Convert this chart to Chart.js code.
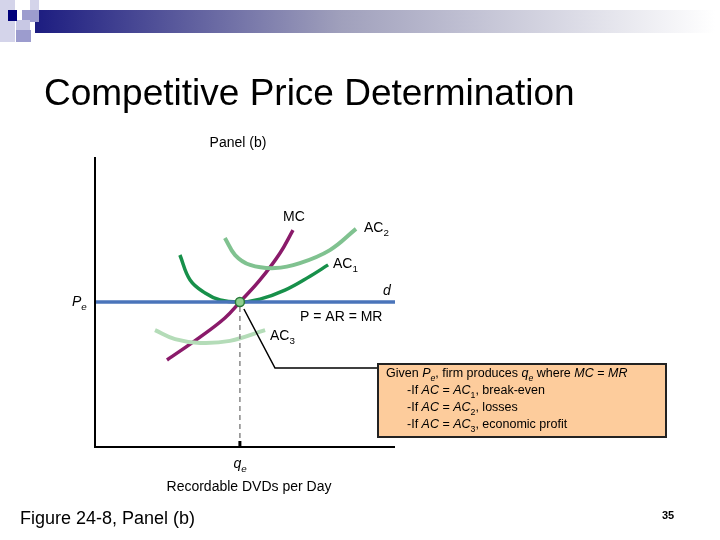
<!DOCTYPE html>
<html><head><meta charset="utf-8">
<script src="https://cdn.jsdelivr.net/npm/chart.js@4.4.1/dist/chart.umd.min.js"></script>
<style>html,body{margin:0;padding:0;background:#fff}#wrap{width:720px;height:540px;position:relative}</style>
</head><body><div id="wrap"><canvas id="c" width="720" height="540"></canvas></div>
<script>
// curve data (x: quantity 0-100, y: price 0-100)
const priceLevel = 50;
const qe = 48.3;
const mcCurve = [[24,30],[35,37.9],[43.3,44.5],[48.3,50],[55,57.6],[61.7,66.9],[66,74.8]];
const ac1Curve = [[28.3,66.2],[31.7,57.6],[36.7,53.1],[41.7,50.7],[48.3,50],[55,51],[63.3,54.1],[71.7,58.9],[77.7,62.8]];
const ac2Curve = [[43.3,72.1],[46.7,66.2],[51.7,62.8],[60,61.7],[68.3,63.4],[78.3,67.9],[87,75.2]];
const ac3Curve = [[20,40.3],[26.7,37.2],[35,35.9],[45,36.6],[56.7,40.3]];
const demandLine = [[0,priceLevel],[100,priceLevel]];
const qeLine = [[qe,0],[qe,priceLevel]];

const pts = a => a.map(([x, y]) => ({x, y}));
const curve = (data, color, w) => ({data: pts(data), borderColor: color, borderWidth: w, showLine: true, pointRadius: 0, tension: 0.4, borderCapStyle: 'butt'});

function sub(ctx, x, y, parts, size, align) {
  // parts: [text, isSub, italic]
  let total = 0;
  parts.forEach(p => { ctx.font = (p[2] ? 'italic ' : '') + (p[1] ? size * 0.7 : size) + 'px "Liberation Sans", Arial'; total += ctx.measureText(p[0]).width; });
  let cx = align === 'center' ? x - total / 2 : x;
  ctx.textAlign = 'left';
  parts.forEach(p => {
    ctx.font = (p[2] ? 'italic ' : '') + (p[1] ? size * 0.7 : size) + 'px "Liberation Sans", Arial';
    ctx.fillText(p[0], cx, p[1] ? y + size * 0.3 : y);
    cx += ctx.measureText(p[0]).width;
  });
}

const slide = {
  id: 'slide',
  beforeDraw(chart) {
    const ctx = chart.ctx;
    ctx.save();
    const g = ctx.createLinearGradient(35, 0, 715, 0);
    g.addColorStop(0, '#1c1c80'); g.addColorStop(0.45, '#a0a0bc'); g.addColorStop(1, '#ffffff');
    ctx.fillStyle = g; ctx.fillRect(35, 10, 685, 23);
    ctx.fillStyle = '#d4d4ea'; ctx.fillRect(0, 0, 15, 42); ctx.fillRect(30, 0, 9, 20);
    ctx.fillStyle = '#9c9cce'; ctx.fillRect(22, 10, 17, 12); ctx.fillRect(16, 30, 15, 12);
    ctx.fillStyle = '#c8c8e4'; ctx.fillRect(16, 20, 14, 10);
    ctx.fillStyle = '#00007a'; ctx.fillRect(8, 10, 9, 11);
    ctx.restore();
  },
  afterDraw(chart) {
    const ctx = chart.ctx, a = chart.chartArea, xs = chart.scales.x, ys = chart.scales.y;
    ctx.save();
    // axes
    ctx.strokeStyle = '#000'; ctx.lineWidth = 2;
    ctx.beginPath(); ctx.moveTo(a.left, a.top); ctx.lineTo(a.left, a.bottom); ctx.lineTo(a.right, a.bottom); ctx.stroke();
    const qx = xs.getPixelForValue(qe), py = ys.getPixelForValue(priceLevel);
    ctx.lineWidth = 3; ctx.beginPath(); ctx.moveTo(qx, a.bottom); ctx.lineTo(qx, a.bottom - 6); ctx.stroke();
    // leader line and box
    ctx.lineWidth = 1.5;
    ctx.beginPath(); ctx.moveTo(qx + 4, py + 7); ctx.lineTo(275, 368); ctx.lineTo(378, 368); ctx.stroke();
    ctx.fillStyle = '#fdcc9c'; ctx.fillRect(378, 364, 288, 73);
    ctx.strokeStyle = '#222'; ctx.lineWidth = 2; ctx.strokeRect(378, 364, 288, 73);
    // equilibrium point
    ctx.fillStyle = '#8fd08f'; ctx.strokeStyle = '#2a7a3a'; ctx.lineWidth = 1.5;
    ctx.beginPath(); ctx.arc(qx, py, 4.5, 0, Math.PI * 2); ctx.fill(); ctx.stroke();
    // texts
    ctx.fillStyle = '#000'; ctx.textBaseline = 'alphabetic';
    ctx.font = '37px "Liberation Sans", Arial'; ctx.textAlign = 'left';
    ctx.fillText('Competitive Price Determination', 44, 105);
    ctx.font = '14px "Liberation Sans", Arial'; ctx.textAlign = 'center';
    ctx.fillText('Panel (b)', 238, 147);
    ctx.fillText('Recordable DVDs per Day', 249, 491);
    ctx.textAlign = 'left';
    ctx.fillText('MC', 283, 221);
    ctx.fillText('P = AR = MR', 300, 321);
    ctx.font = 'italic 14px "Liberation Sans", Arial'; ctx.fillText('d', 383, 295);
    sub(ctx, 364, 232, [['AC'], ['2', true]], 14);
    sub(ctx, 333, 268, [['AC'], ['1', true]], 14);
    sub(ctx, 270, 340, [['AC'], ['3', true]], 14);
    sub(ctx, 72, 306, [['P', false, true], ['e', true, true]], 14);
    sub(ctx, 240, 468, [['q', false, true], ['e', true, true]], 14, 'center');
    const f = 12.5;
    sub(ctx, 386, 377, [['Given '], ['P', false, true], ['e', true, true], [', firm produces '], ['q', false, true], ['e', true, true], [' where '], ['MC', false, true], [' = '], ['MR', false, true]], f);
    sub(ctx, 407, 394, [['-If '], ['AC', false, true], [' = '], ['AC', false, true], ['1', true], [', break-even']], f);
    sub(ctx, 407, 411, [['-If '], ['AC', false, true], [' = '], ['AC', false, true], ['2', true], [', losses']], f);
    sub(ctx, 407, 428, [['-If '], ['AC', false, true], [' = '], ['AC', false, true], ['3', true], [', economic profit']], f);
    ctx.font = '18px "Liberation Sans", Arial';
    ctx.fillText('Figure 24-8, Panel (b)', 20, 524);
    ctx.font = 'bold 11px "Liberation Sans", Arial';
    ctx.fillText('35', 662, 519);
    ctx.restore();
  }
};

new Chart(document.getElementById('c'), {
  type: 'scatter',
  data: {
    datasets: [
      Object.assign(curve(qeLine, '#888', 1.5), {borderDash: [5, 4], tension: 0}),
      Object.assign(curve(demandLine, '#4a74ba', 3.5), {tension: 0}),
      curve(ac3Curve, '#b4dcb8', 4),
      curve(ac2Curve, '#80c290', 4),
      curve(ac1Curve, '#17904a', 3.5),
      curve(mcCurve, '#8a1a6a', 3.5)
    ]
  },
  options: {
    responsive: false, animation: false,
    layout: {padding: {left: 95, right: 325, top: 157, bottom: 93}},
    plugins: {legend: {display: false}, tooltip: {enabled: false}},
    scales: {
      x: {display: false, min: 0, max: 100},
      y: {display: false, min: 0, max: 100}
    }
  },
  plugins: [slide]
});
</script></body></html>
